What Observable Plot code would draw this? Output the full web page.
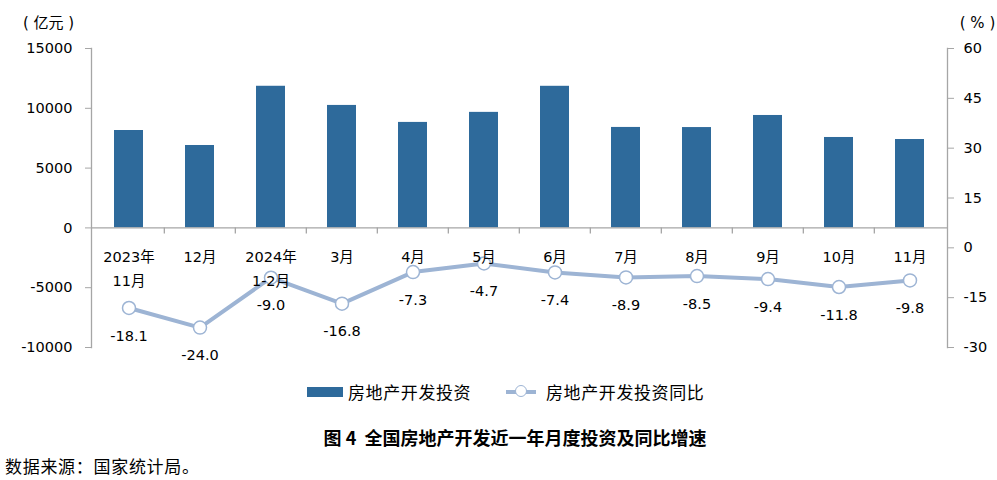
<!DOCTYPE html>
<html>
<head>
<meta charset="utf-8">
<script src="https://cdn.jsdelivr.net/npm/d3@7"></script>
<script src="https://cdn.jsdelivr.net/npm/@observablehq/plot@0.6"></script>
<style>
  body { margin: 0; background: #fff; }
  #wrap { position: relative; width: 997px; height: 480px; font-family: "DejaVu Sans", "Noto Sans CJK SC", sans-serif; color: #000; }
  #chart { position: absolute; left: 0; top: 0; }
  .abs { position: absolute; white-space: pre; }
  .lg { font-family: "Noto Sans CJK SC", sans-serif; font-size: 17px; line-height: 20px; letter-spacing: 0.6px; }
</style>
</head>
<body>
<div id="wrap">
  <div id="chart"></div>
  <div class="abs" style="left:307px;top:387px;width:36px;height:10px;background:#2e6a9b"></div>
  <div class="abs lg" style="left:348px;top:382px">房地产开发投资</div>
  <div class="abs" style="left:506px;top:390px;width:30px;height:3.5px;background:#9db4d4"></div>
  <div class="abs" style="left:515px;top:385px;width:10px;height:10px;border:1.5px solid #9db4d4;border-radius:50%;background:#fff"></div>
  <div class="abs lg" style="left:546px;top:382px">房地产开发投资同比</div>
  <div class="abs" style="left:0;width:1030px;text-align:center;top:426px;font-family:'Noto Sans CJK SC',sans-serif;font-weight:bold;font-size:18px;line-height:22px">图 4  全国房地产开发近一年月度投资及同比增速</div>
  <div class="abs" style="left:5px;top:456px;font-family:'Noto Sans CJK SC',sans-serif;font-size:17px;line-height:20px;letter-spacing:0.7px">数据来源：国家统计局。</div>
</div>
<script>
const categories = ["2023年\n11月","12月","2024年\n1-2月","3月","4月","5月","6月","7月","8月","9月","10月","11月"];
const investment = [8143, 6890, 11842, 10240, 8820, 9660, 11840, 8400, 8390, 9400, 7560, 7390];
const growth = [-18.1, -24.0, -9.0, -16.8, -7.3, -4.7, -7.4, -8.9, -8.5, -9.4, -11.8, -9.8];
const leftTicks = [-10000, -5000, 0, 5000, 10000, 15000];
const rightTicks = [-30, -15, 0, 15, 30, 45, 60];

const leftDomain = [-10000, 15000];
const rightDomain = [-30, 60];
const toLeft = p => (p - rightDomain[0]) / (rightDomain[1] - rightDomain[0]) * (leftDomain[1] - leftDomain[0]) + leftDomain[0];
const fromLeft = v => (v - leftDomain[0]) / (leftDomain[1] - leftDomain[0]) * (rightDomain[1] - rightDomain[0]) + rightDomain[0];

const data = categories.map((c, i) => ({cat: c, inv: investment[i], g: growth[i], gy: toLeft(growth[i])}));

const W = 997, mL = 91, mR = 50, mT = 48, mB = 18, H = 365;
const step = (W - mL - mR) / categories.length;
const axisColor = "#a6a6a6";
const barColor = "#2e6a9b";
const lineColor = "#9db4d4";

const chart = Plot.plot({
  width: W, height: H,
  marginLeft: mL, marginRight: mR, marginTop: mT, marginBottom: mB,
  style: {fontFamily: "'DejaVu Sans', 'Noto Sans CJK SC', sans-serif", fontSize: "14.5px", color: "#000", background: "#fff", overflow: "visible"},
  x: {domain: categories, paddingInner: 0.59, paddingOuter: 0.295, axis: null},
  y: {domain: leftDomain, axis: null},
  marks: [
    Plot.barY(data, {x: "cat", y: "inv", fill: barColor}),
    Plot.ruleY([0], {stroke: axisColor, strokeWidth: 1.3}),
    Plot.ruleX(categories.slice(1), {x: d => d, y1: 0, y2: -520, dx: -step / 2, stroke: axisColor, strokeWidth: 1.3}),
    Plot.frame({anchor: "left", stroke: axisColor, strokeWidth: 1.3}),
    Plot.frame({anchor: "right", stroke: axisColor, strokeWidth: 1.3}),
    Plot.axisY({ticks: leftTicks, tickSize: 6, tickPadding: 13, tickFormat: d => String(d), stroke: axisColor, fill: "#000", fontSize: 14.5, label: null}),
    Plot.axisY(rightTicks.map(toLeft), {anchor: "right", tickSize: 6, tickPadding: 10, tickFormat: d => String(Math.round(fromLeft(d))), stroke: axisColor, fill: "#000", fontSize: 14.5, label: null}),
    Plot.line(data, {x: "cat", y: "gy", stroke: lineColor, strokeWidth: 4}),
    Plot.dot(data, {x: "cat", y: "gy", r: 6.5, fill: "#fff", stroke: lineColor, strokeWidth: 1.5}),
    Plot.text(data, {x: "cat", y: 0, text: "cat", dy: 16.5, lineAnchor: "top", lineHeight: 1.667, fontSize: 14.5, fill: "#000"}),
    Plot.text(data, {x: "cat", y: "gy", text: d => d.g.toFixed(1), dy: 28, fontSize: 14.5, fill: "#000"}),
    Plot.text(["( 亿元 )"], {frameAnchor: "top-left", dx: -43, dy: -31, textAnchor: "middle", fontSize: 15, fill: "#000"}),
    Plot.text(["( % )"], {frameAnchor: "top-right", dx: 30, dy: -31, textAnchor: "middle", fontSize: 15, fill: "#000"})
  ]
});
document.getElementById("chart").appendChild(chart);
</script>
</body>
</html>
